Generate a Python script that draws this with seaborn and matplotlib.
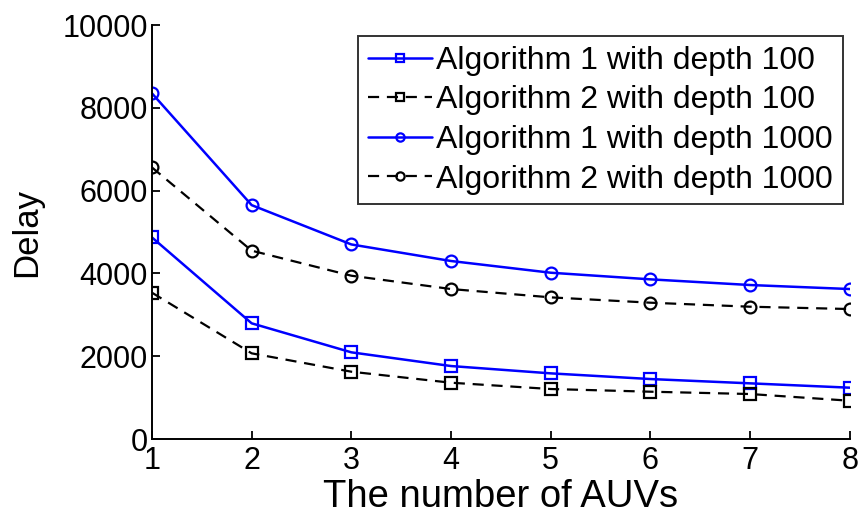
import matplotlib
matplotlib.use("Agg")
import matplotlib.pyplot as plt
import seaborn as sns
import pandas as pd

auvs = [1, 2, 3, 4, 5, 6, 7, 8]
alg1_d100 = [4870, 2795, 2094, 1763, 1586, 1449, 1345, 1240]
alg2_d100 = [3535, 2070, 1626, 1360, 1208, 1143, 1087, 925]
alg1_d1000 = [8350, 5650, 4700, 4300, 4017, 3857, 3720, 3623]
alg2_d1000 = [6560, 4550, 3945, 3623, 3422, 3293, 3196, 3140]
labels = ["Algorithm 1 with depth 100", "Algorithm 2 with depth 100",
          "Algorithm 1 with depth 1000", "Algorithm 2 with depth 1000"]
series = [alg1_d100, alg2_d100, alg1_d1000, alg2_d1000]

sns.set_theme(style="white")
plt.rcParams['font.family'] = ['Liberation Sans', 'DejaVu Sans']
plt.rcParams['text.color'] = 'black'
plt.rcParams['axes.labelcolor'] = 'black'

fig = plt.figure(figsize=(8.61, 5.13), dpi=100)
ax = fig.add_axes([0.1765, 0.1442, 0.8105, 0.807])

dash = (0, (5, 3.5))
styles = [
    dict(color="#0000ff", marker="s", linestyle="-", ms=9, lw=1.8),
    dict(color="black", marker="s", linestyle=dash, ms=9, lw=1.6),
    dict(color="#0000ff", marker="o", linestyle="-", ms=8.5, lw=1.8),
    dict(color="black", marker="o", linestyle=dash, ms=8.5, lw=1.6),
]

for lab, vals, st in zip(labels, series, styles):
    df = pd.DataFrame({"x": auvs, "y": vals})
    sns.lineplot(data=df, x="x", y="y", ax=ax, label=lab, color=st["color"],
                 marker=st["marker"], linestyle=st["linestyle"], linewidth=st["lw"],
                 markersize=st["ms"], markerfacecolor="none",
                 markeredgecolor=st["color"], markeredgewidth=1.6)

ax.set_xlim(1, 8)
ax.set_ylim(0, 10000)
ax.set_xticks(auvs)
ax.set_yticks([0, 2000, 4000, 6000, 8000, 10000])
ax.set_xlabel("The number of AUVs", fontsize=27.5, labelpad=2, color="black")
ax.set_ylabel("Delay", fontsize=25, labelpad=14, color="black")
ax.tick_params(axis="x", direction="in", length=6, width=1.3, labelsize=22,
               colors="black", bottom=True, pad=5)
ax.tick_params(axis="y", direction="in", length=6, width=1.3, labelsize=22,
               colors="black", left=True, pad=3)
for s in ["top", "right"]:
    ax.spines[s].set_visible(False)
for s in ["left", "bottom"]:
    ax.spines[s].set_color("black")
    ax.spines[s].set_linewidth(1.4)

leg = ax.legend(loc="upper right", bbox_to_anchor=(0.990, 0.973), fontsize=23,
                frameon=True, fancybox=False, edgecolor="black", handlelength=2.0,
                handletextpad=0.15, labelspacing=0.3, borderpad=0.3, borderaxespad=0,
                markerscale=0.7)
leg.get_frame().set_linewidth(1.4)
for t in leg.get_texts():
    t.set_color("black")

fig.savefig("out.png", dpi=100)
